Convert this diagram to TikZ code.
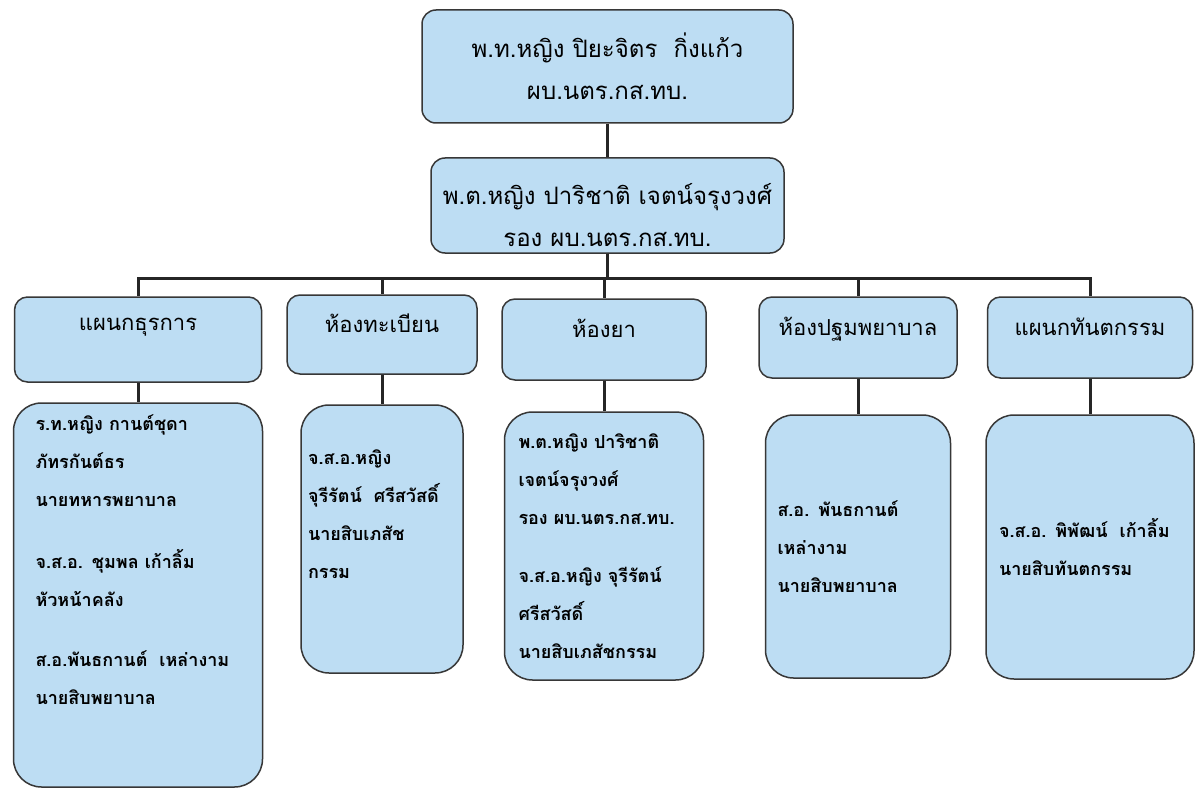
\documentclass[tikz,border=0pt]{standalone}
\usepackage{fontspec}
\newfontfamily\thaifont[Script=Thai]{Loma}
\usetikzlibrary{positioning}

\definecolor{boxfill}{RGB}{189,221,243}
\definecolor{boxdraw}{RGB}{55,55,55}

\begin{document}
\begin{tikzpicture}[
    x=1pt, y=-1pt,
    every node/.style={
        font=\thaifont\fontsize{22}{41}\selectfont
    },
    chief/.style={
        rounded corners=14pt,
        align=center,
        font=\thaifont\fontsize{24}{42}\selectfont,
        draw=boxdraw, line width=1.5pt,
        fill=boxfill
    },
    dept/.style={
        rounded corners=13pt,
        text height=12pt, text depth=17pt,
        draw=boxdraw, line width=1.5pt,
        fill=boxfill
    },
    staff/.style={
        rounded corners=28pt,
        inner xsep=0pt,
        align=left,
        font=\thaifont\bfseries\fontsize{18}{38}\selectfont,
        draw=boxdraw, line width=1.5pt,
        fill=boxfill
    },
    link/.style={
        line width=3pt,
        draw=black!85
    }
]
\fill[white] (0,0) rectangle (1195,789);
\useasboundingbox (0,0) rectangle (1195,789);

\node (n1) [chief, minimum width=371pt, minimum height=113pt] at (607.5,66.5)
    {พ.ท.หญิง ปิยะจิตร\ \ กิ่งแก้ว\\ผบ.นตร.กส.ทบ.};
\node (n2) [chief, minimum width=353pt, minimum height=95pt] at (607.5,205.5)
    {\rule{0pt}{40pt}พ.ต.หญิง ปาริชาติ เจตน์จรุงวงศ์\\รอง ผบ.นตร.กส.ทบ.};

\node (n3) [dept, minimum width=247pt, minimum height=85pt, text depth=30pt] at (138,339.5) {แผนกธุรการ};
\node (n4) [dept, minimum width=190pt, minimum height=79pt] at (382,334.5)  {ห้องทะเบียน};
\node (n5) [dept, minimum width=204pt, minimum height=81pt] at (604,339.5)  {ห้องยา};
\node (n6) [dept, minimum width=198pt, minimum height=81pt] at (858,337.5)  {ห้องปฐมพยาบาล};
\node (n7) [dept, minimum width=205pt, minimum height=81pt] at (1090,337.5) {แผนกทันตกรรม};

\node (n8) [staff, minimum width=249pt, minimum height=384pt, text width=205pt] at (138,595)
    {ร.ท.หญิง กานต์ชุดา\\ภัทรกันต์ธร\\นายทหารพยาบาล\\[24pt]%
     จ.ส.อ. ชุมพล เก้าลิ้ม\\หัวหน้าคลัง\\[22pt]%
     ส.อ.พันธกานต์\ \ เหล่างาม\\นายสิบพยาบาล\rule[-70pt]{0pt}{0pt}};
\node (n9) [staff, minimum width=162pt, minimum height=268pt, text width=148pt] at (382,539)
    {จ.ส.อ.หญิง\\จุรีรัตน์\ \ ศรีสวัสดิ์\\นายสิบเภสัช\\กรรม\rule[-49pt]{0pt}{0pt}};
\node (n10) [staff, minimum width=199pt, minimum height=268pt, text width=171pt] at (604,546)
    {พ.ต.หญิง ปาริชาติ\\เจตน์จรุงวงศ์\\รอง ผบ.นตร.กส.ทบ.\\[20pt]%
     จ.ส.อ.หญิง จุรีรัตน์\\ศรีสวัสดิ์\\นายสิบเภสัชกรรม};
\node (n11) [staff, minimum width=185pt, minimum height=263pt, text width=161pt] at (858,546.5)
    {ส.อ. พันธกานต์\\เหล่างาม\\นายสิบพยาบาล};
\node (n12) [staff, minimum width=208pt, minimum height=264pt, text width=182pt] at (1090,547)
    {จ.ส.อ. พิพัฒน์\ \ เก้าลิ้ม\\นายสิบทันตกรรม};

\draw[link] (n1.south) -- (n2.north);
\draw[link] (n2.south) -- ++(0,25) -| (n3.north);
\draw[link] (n2.south) -- ++(0,25) -| (n4.north);
\draw[link] (n2.south) -- ++(0,25) -| (n5.north);
\draw[link] (n2.south) -- ++(0,25) -| (n6.north);
\draw[link] (n2.south) -- ++(0,25) -| (n7.north);

\draw[link] (n3.south) -- (n8.north);
\draw[link] (n4.south) -- (n9.north);
\draw[link] (n5.south) -- (n10.north);
\draw[link] (n6.south) -- (n11.north);
\draw[link] (n7.south) -- (n12.north);
\end{tikzpicture}
\end{document}
